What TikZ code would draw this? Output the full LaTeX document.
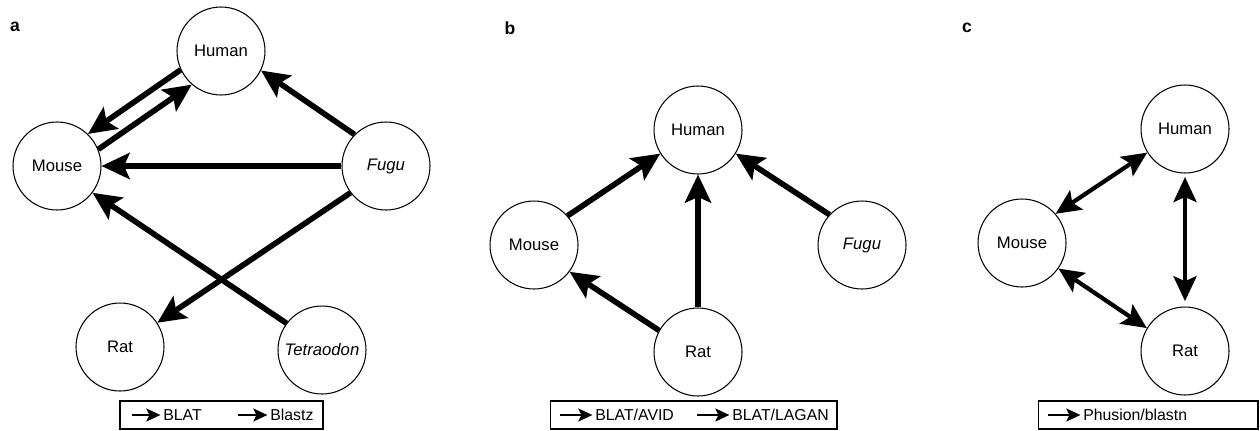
\documentclass[tikz,border=0pt]{standalone}
\usepackage{fontspec}
\setmainfont{Liberation Sans}
\usetikzlibrary{arrows.meta}

\tikzset{
  species/.style={circle, draw, semithick, minimum size=1.76cm, inner sep=0pt, font=\fontsize{9.5}{10}\selectfont},
  hit/.style={line width=3.2pt, -{Stealth[length=5.6mm, width=5.2mm, inset=1.1mm]}},
  mutual/.style={line width=2.4pt, {Stealth[length=5mm, width=4.6mm, inset=1mm]}-{Stealth[length=5mm, width=4.6mm, inset=1mm]}},
  keybox/.style={draw, semithick, minimum height=0.56cm, inner sep=0pt},
  keyarrow/.style={line width=1.1pt, -{Stealth[length=2.8mm, width=2.6mm, inset=0.6mm]}},
  keytext/.style={anchor=west, inner sep=0pt, font=\fontsize{9}{10}\selectfont},
  panel/.style={font=\bfseries\fontsize{10}{12}\selectfont}
}

\begin{document}
\begin{tikzpicture}[x=0.02cm, y=-0.02cm]
  \useasboundingbox (0,0) rectangle (1260,430);

  % a
  \begin{scope}
    \node[panel] (labelA) at (15,27) {a};
    \node[species] (humanA) at (221,51) {Human};
    \node[species] (mouseA) at (57,166) {Mouse};
    \node[species] (fuguA) at (386,166) {\itshape Fugu};
    \node[species] (ratA) at (120,347) {Rat};
    \node[species] (tetraA) at (322,350) {\itshape Tetraodon};
    \draw[hit] (humanA.205) -- (mouseA.46);
    \draw[hit] (mouseA.22) -- (humanA.229);
    \draw[hit] (fuguA.135) -- (humanA.334);
    \draw[hit] (fuguA) -- (mouseA);
    \draw[hit] (fuguA.217) -- (ratA.33);
    \draw[hit] (tetraA.143) -- (mouseA.323);
    \node[keybox, minimum width=4.06cm] (keyA) at (221.5,415) {};
    \node[keytext] (blat) at (163,415) {BLAT};
    \node[keytext] (blastz) at (270,415) {Blastz};
    \coordinate (blatFrom) at (132,415);
    \coordinate (blastzFrom) at (238,415);
    \draw[keyarrow] (blatFrom) -- ([xshift=-1.5pt]blat.west);
    \draw[keyarrow] (blastzFrom) -- ([xshift=-1.5pt]blastz.west);
  \end{scope}

  % b
  \begin{scope}[shift={(420,0)}]
    \node[panel] (labelB) at (90,28) {b};
    \node[species] (humanB) at (278,130) {Human};
    \node[species] (mouseB) at (114,245) {Mouse};
    \node[species] (fuguB) at (442,245) {\itshape Fugu};
    \node[species] (ratB) at (278,352) {Rat};
    \draw[hit] (mouseB.41) -- (humanB.212);
    \draw[hit] (ratB) -- (humanB);
    \draw[hit] (fuguB.137) -- (humanB.328);
    \draw[hit] (ratB.151) -- (mouseB.323);
    \node[keybox, minimum width=5.74cm] (keyB) at (273.5,415) {};
    \node[keytext] (avid) at (175,415) {BLAT/AVID};
    \node[keytext] (lagan) at (312,415) {BLAT/LAGAN};
    \coordinate (avidFrom) at (140,415);
    \coordinate (laganFrom) at (277,415);
    \draw[keyarrow] (avidFrom) -- ([xshift=-1.5pt]avid.west);
    \draw[keyarrow] (laganFrom) -- ([xshift=-1.5pt]lagan.west);
  \end{scope}

  % c
  \begin{scope}[shift={(840,0)}]
    \node[panel] (labelC) at (127,28) {c};
    \node[species] (humanC) at (345,129) {Human};
    \node[species] (mouseC) at (182,243) {Mouse};
    \node[species] (ratC) at (345,351) {Rat};
    \draw[mutual] (humanC.212) -- (mouseC.41);
    \draw[mutual] (mouseC.325) -- (ratC.149);
    \draw[mutual, shorten <=2pt, shorten >=3pt] (humanC) -- (ratC);
    \node[keybox, minimum width=4.4cm] (keyC) at (308,415) {};
    \node[keytext] (phusion) at (243,415) {Phusion/blastn};
    \coordinate (phusionFrom) at (208,415);
    \draw[keyarrow] (phusionFrom) -- ([xshift=-1.5pt]phusion.west);
  \end{scope}
\end{tikzpicture}
\end{document}
